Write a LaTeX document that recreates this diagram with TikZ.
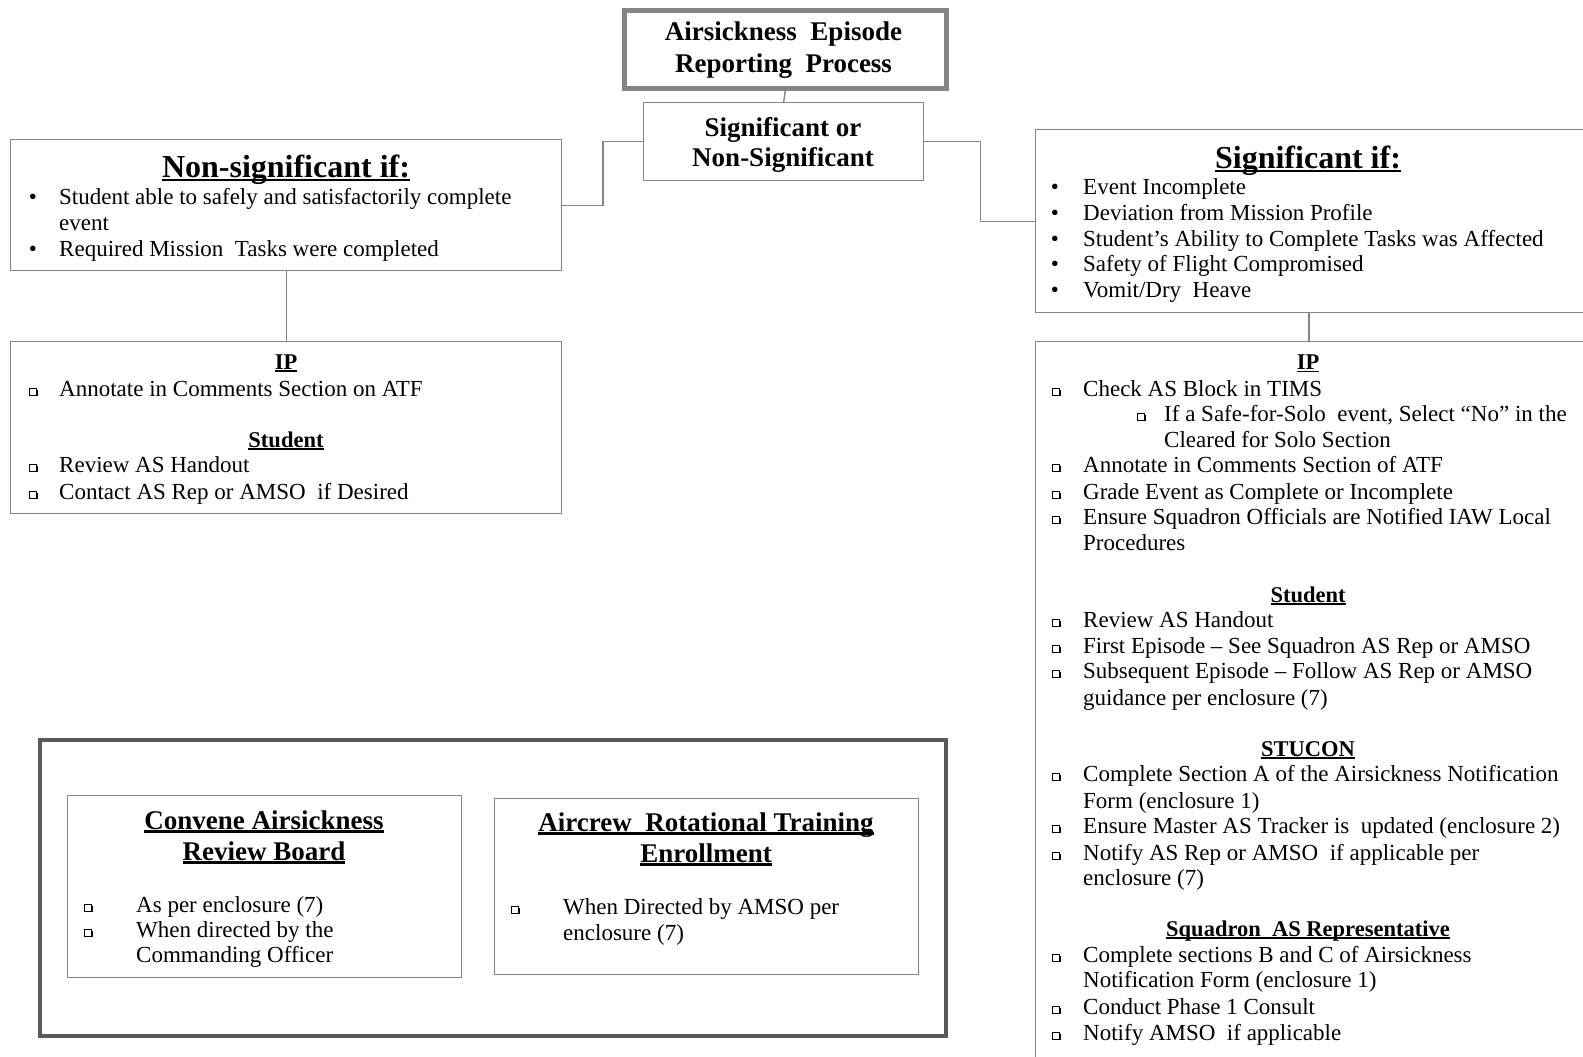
\documentclass[tikz,border=0pt]{standalone}
\usepackage{fontspec}
\setmainfont{Liberation Serif}

\definecolor{linegray}{HTML}{858585}
\definecolor{framegray}{HTML}{595959}

% underline sitting just below the baseline
\newcommand\ulin[1]{\setbox0\hbox{#1}\rlap{\rule[-0.13em]{\wd0}{0.075em}}\box0}

\newcounter{lnc}
% round bullet line: bullet centre x, text x, baseline y, text
\newcommand\dotline[4]{\stepcounter{lnc}%
  \node[body,anchor=base] (b\thelnc) at (#1,#3) {\textbullet};
  \node[body] (t\thelnc) at (#2,#3) {#4};}
% shadowed square bullet line
\newcommand\sqline[4]{\stepcounter{lnc}%
  \pic at (#1,#3-4.5) {sqb};
  \node[body] (t\thelnc) at (#2,#3) {#4};}
% continuation line without a bullet
\newcommand\contline[3]{\stepcounter{lnc}%
  \node[body] (t\thelnc) at (#1,#2) {#3};}
% centred section heading
\newcommand\secline[3]{\stepcounter{lnc}%
  \node[head] (h\thelnc) at (#1,#2) {\ulin{#3}};}

\tikzset{
  x=1pt, y=-1pt,
  frame/.style={draw=linegray, line width=1.4pt, fill=white, inner sep=0pt, anchor=north west},
  conn/.style={draw=linegray, line width=1.4pt},
  body/.style={anchor=base west, inner sep=0pt, font=\fontsize{23}{26}\selectfont},
  head/.style={anchor=base, inner sep=0pt, font=\fontsize{22.5}{26}\selectfont\bfseries},
  bighead/.style={anchor=base, inner sep=0pt, font=\fontsize{32}{36}\selectfont\bfseries},
  ttl/.style={anchor=base, inner sep=0pt, font=\fontsize{27}{30}\selectfont\bfseries},
  sqb/.pic={
    \fill[black] (-2,3.4) rectangle (4.6,4.6);
    \fill[black] (3.4,-2) rectangle (4.6,4.6);
    \draw[black, line width=0.7pt, fill=white] (-3.4,-3.4) rectangle (3.4,3.4);
  }
}

\begin{document}
\begin{tikzpicture}
\useasboundingbox (0,0) rectangle (1583,1057);
\fill[white] (0,0) rectangle (1583,1057);
\clip (0,0) rectangle (1583,1057);

% ---- boxes ----
\node[frame, line width=4.5pt, minimum width=322pt, minimum height=78pt] (title) at (622,8.5) {};
\node[frame, minimum width=280pt, minimum height=78pt] (sig) at (643,102) {};
\node[frame, minimum width=551pt, minimum height=131pt] (nsig) at (10,139) {};
\node[frame, minimum width=551pt, minimum height=172pt] (nip) at (10,341) {};
\node[frame, minimum width=565pt, minimum height=183pt] (sigif) at (1035,129) {};
\node[frame, minimum width=565pt, minimum height=734pt] (sip) at (1035,341) {};
\node[frame, draw=framegray, line width=4pt, minimum width=906pt, minimum height=296pt] (outer) at (37.5,737.5) {};
\node[frame, minimum width=394pt, minimum height=182pt] (board) at (67,795) {};
\node[frame, minimum width=424pt, minimum height=176pt] (artb) at (494,798) {};

% ---- connectors ----
\draw[conn] (title.south) -- (sig.north);
\draw[conn] (sig.west) -- ++(-40,0) |- (nsig.east);
\draw[conn] (sig.east) -- ++(56,0) |- (sigif.west);
\draw[conn] (nsig.south) -- (nip.north);
\draw[conn] ([xshift=274pt]sigif.south west) -- ([xshift=274pt]sip.north west);

% ---- title ----
\node[ttl] (ttl1) at (783.5,41) {Airsickness\ \ Episode};
\node[ttl] (ttl2) at (783.5,73) {Reporting\ \ Process};
\node[ttl] (sig1) at (783,136) {Significant or};
\node[ttl] (sig2) at (783,166.5) {Non-Significant};

% ---- non-significant ----
\node[bighead] (nsh) at (286,177) {\ulin{Non-significant if:}};
\dotline{33}{59}{204}{Student able to safely and satisfactorily complete}
\contline{59}{230}{event}
\dotline{33}{59}{256}{Required Mission\ \ Tasks were completed}

\secline{286}{369}{IP}
\sqline{33}{59}{396}{Annotate in Comments Section on ATF}
\secline{286}{447}{Student}
\sqline{33}{59}{472}{Review AS Handout}
\sqline{33}{59}{499}{Contact AS Rep or AMSO\ \ if Desired}

% ---- significant ----
\node[bighead] (sh) at (1308,168) {\ulin{Significant if:}};
\dotline{1055}{1083}{194}{Event Incomplete}
\dotline{1055}{1083}{220}{Deviation from Mission Profile}
\dotline{1055}{1083}{246}{Student’s Ability to Complete Tasks was Affected}
\dotline{1055}{1083}{271.5}{Safety of Flight Compromised}
\dotline{1055}{1083}{297}{Vomit/Dry\ \ Heave}

\secline{1308}{369.5}{IP}
\sqline{1056}{1083}{396}{Check AS Block in TIMS}
\sqline{1141}{1164}{421}{If a Safe-for-Solo\ \ event, Select “No” in the}
\contline{1164}{447}{Cleared for Solo Section}
\sqline{1056}{1083}{472}{Annotate in Comments Section of ATF}
\sqline{1056}{1083}{499}{Grade Event as Complete or Incomplete}
\sqline{1056}{1083}{524}{Ensure Squadron Officials are Notified IAW Local}
\contline{1083}{550}{Procedures}

\secline{1308}{602}{Student}
\sqline{1056}{1083}{627}{Review AS Handout}
\sqline{1056}{1083}{653}{First Episode – See Squadron AS Rep or AMSO}
\sqline{1056}{1083}{678}{Subsequent Episode – Follow AS Rep or AMSO}
\contline{1083}{705}{guidance per enclosure (7)}

\secline{1308}{756}{STUCON}
\sqline{1056}{1083}{781}{Complete Section A of the Airsickness Notification}
\contline{1083}{808}{Form (enclosure 1)}
\sqline{1056}{1083}{833}{Ensure Master AS Tracker is\ \ updated (enclosure 2)}
\sqline{1056}{1083}{860}{Notify AS Rep or AMSO\ \ if applicable per}
\contline{1083}{885}{enclosure (7)}

\secline{1308}{936}{Squadron\ \ AS Representative}
\sqline{1056}{1083}{962}{Complete sections B and C of Airsickness}
\contline{1083}{987}{Notification Form (enclosure 1)}
\sqline{1056}{1083}{1014}{Conduct Phase 1 Consult}
\sqline{1056}{1083}{1040}{Notify AMSO\ \ if applicable}

% ---- bottom panel ----
\node[ttl] (bh1) at (264,829) {\ulin{Convene Airsickness}};
\node[ttl] (bh2) at (264,860) {\ulin{Review Board}};
\sqline{88}{136}{912}{As per enclosure (7)}
\sqline{88}{136}{937}{When directed by the}
\contline{136}{962}{Commanding Officer}

\node[ttl] (ah1) at (706,831) {\ulin{Aircrew\ \ Rotational Training}};
\node[ttl] (ah2) at (706,862) {\ulin{Enrollment}};
\sqline{515}{563}{914}{When Directed by AMSO per}
\contline{563}{940}{enclosure (7)}
\end{tikzpicture}
\end{document}
